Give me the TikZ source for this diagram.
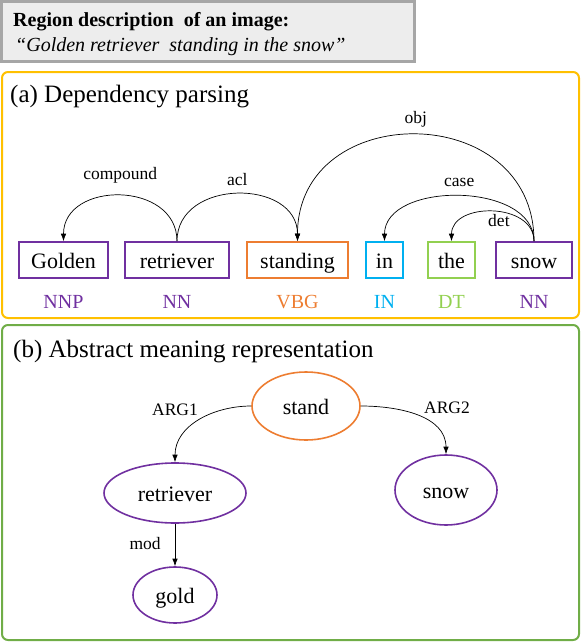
\documentclass[tikz,border=0pt]{standalone}
\usepackage{fontspec}
\setmainfont{Liberation Serif}
\usetikzlibrary{arrows.meta,positioning,shapes.geometric}

\definecolor{boxgray}{HTML}{A6A6A6}
\definecolor{boxfill}{HTML}{EDEDED}
\definecolor{amber}{HTML}{FFC000}
\definecolor{leaf}{HTML}{70AD47}
\definecolor{violeta}{HTML}{7030A0}
\definecolor{naranja}{HTML}{ED7D31}
\definecolor{celeste}{HTML}{00B0F0}
\definecolor{lima}{HTML}{92D050}
\newcommand{\setfs}[1]{\fontsize{#1}{#1}\selectfont}

\begin{document}
\begin{tikzpicture}[x=1pt, y=-1pt, >={Latex[length=7.5pt,width=5.5pt]},
  word/.style={draw=#1, line width=1.6pt, inner sep=0pt, minimum height=36pt,
    text height=16pt, text depth=0pt, font=\setfs{22}},
  tag/.style={text=#1, inner sep=0pt, text height=14pt, text depth=0pt, font=\setfs{20}},
  lbl/.style={inner sep=1pt, text height=12pt, text depth=3.5pt, font=\setfs{17.5}},
  concept/.style={ellipse, draw=#1, line width=1.6pt, inner sep=0pt,
    text height=16pt, text depth=0pt, font=\setfs{22}},
  arc/.style={->, line width=0.7pt},
  heading/.style={anchor=base west, inner sep=0pt}]
  \useasboundingbox (0,0) rectangle (582,642);

  % Region description
  \draw[line width=3pt, draw=boxgray, fill=boxfill] (1.5,1.5) rectangle (414,61.5);
  \node[heading, font=\setfs{20}\bfseries] (desc) at (13,27) {Region description\ \ of an image:};
  \node[heading, font=\setfs{20}\itshape] (capt) at (15,52) {“Golden retriever\ \ standing in the snow”};

  % (a) Dependency parsing
  \draw[line width=2pt, amber, rounded corners=6pt] (2,72) rectangle (579,318);
  \node[heading, font=\setfs{25}] (tita) at (10,102) {(a) Dependency parsing};

  \node[word=violeta, minimum width=89pt] (wgolden) at (63.5,260) {Golden};
  \node[word=violeta, minimum width=104pt] (wretr) at (177,260) {retriever};
  \node[word=naranja, minimum width=101pt] (wstand) at (297.5,260) {standing};
  \node[word=celeste, minimum width=37pt] (win) at (384.5,260) {in};
  \node[word=lima, minimum width=47pt] (wthe) at (451.5,260) {the};
  \node[word=violeta, minimum width=76pt] (wsnow) at (534,260) {snow};

  \node[tag=violeta, below=15pt of wgolden] (tgolden) {NNP};
  \node[tag=violeta, below=15pt of wretr] (tretr) {NN};
  \node[tag=naranja, below=15pt of wstand] (tstand) {VBG};
  \node[tag=celeste, below=15pt of win] (tin) {IN};
  \node[tag=lima, below=15pt of wthe] (tthe) {DT};
  \node[tag=violeta, below=15pt of wsnow] (tsnow) {NN};

  \draw[arc] (wretr.north) to[out=90, in=90, looseness=1.37] node[lbl, above=11pt] {compound} (wgolden.north);
  \draw[arc] (wretr.north) to[out=90, in=90, looseness=1.34] node[lbl, above=4pt] {acl} (wstand.north);
  \draw[arc] (wsnow.north) to[out=90, in=90, looseness=1.54] node[lbl, above=6pt] {obj} (wstand.north);
  \draw[arc] (wsnow.north) to[out=90, in=90, looseness=1.03] node[lbl, above=5pt] {case} (win.north);
  \draw[arc] (wsnow.north) to[out=90, in=90, looseness=1.22] node[lbl, pos=0.45, below=1pt] {det} (wthe.north);

  % (b) Abstract meaning representation
  \draw[line width=2pt, leaf, rounded corners=6pt] (2,325) rectangle (579,640);
  \node[heading, font=\setfs{25}] (titb) at (13,357) {(b) Abstract meaning representation};

  \node[concept=naranja, minimum width=108pt, minimum height=68pt] (stand) at (306,406) {stand};
  \node[concept=violeta, minimum width=142pt, minimum height=60pt] (retr) at (175,493) {retriever};
  \node[concept=violeta, minimum width=102pt, minimum height=70pt] (snow) at (446,490) {snow};
  \node[concept=violeta, minimum width=84pt, minimum height=56pt] (gold) at (175,595) {gold};

  \draw[arc] (stand.west) to[out=180, in=90] node[lbl, above left=0pt] {ARG1} (retr.north);
  \draw[arc] (stand.east) to[out=0, in=90] node[lbl, above right=0pt, xshift=5pt, yshift=-3pt] {ARG2} (snow.north);
  \draw[arc] (retr) -- node[lbl, left=13pt] {mod} (gold);
\end{tikzpicture}
\end{document}
